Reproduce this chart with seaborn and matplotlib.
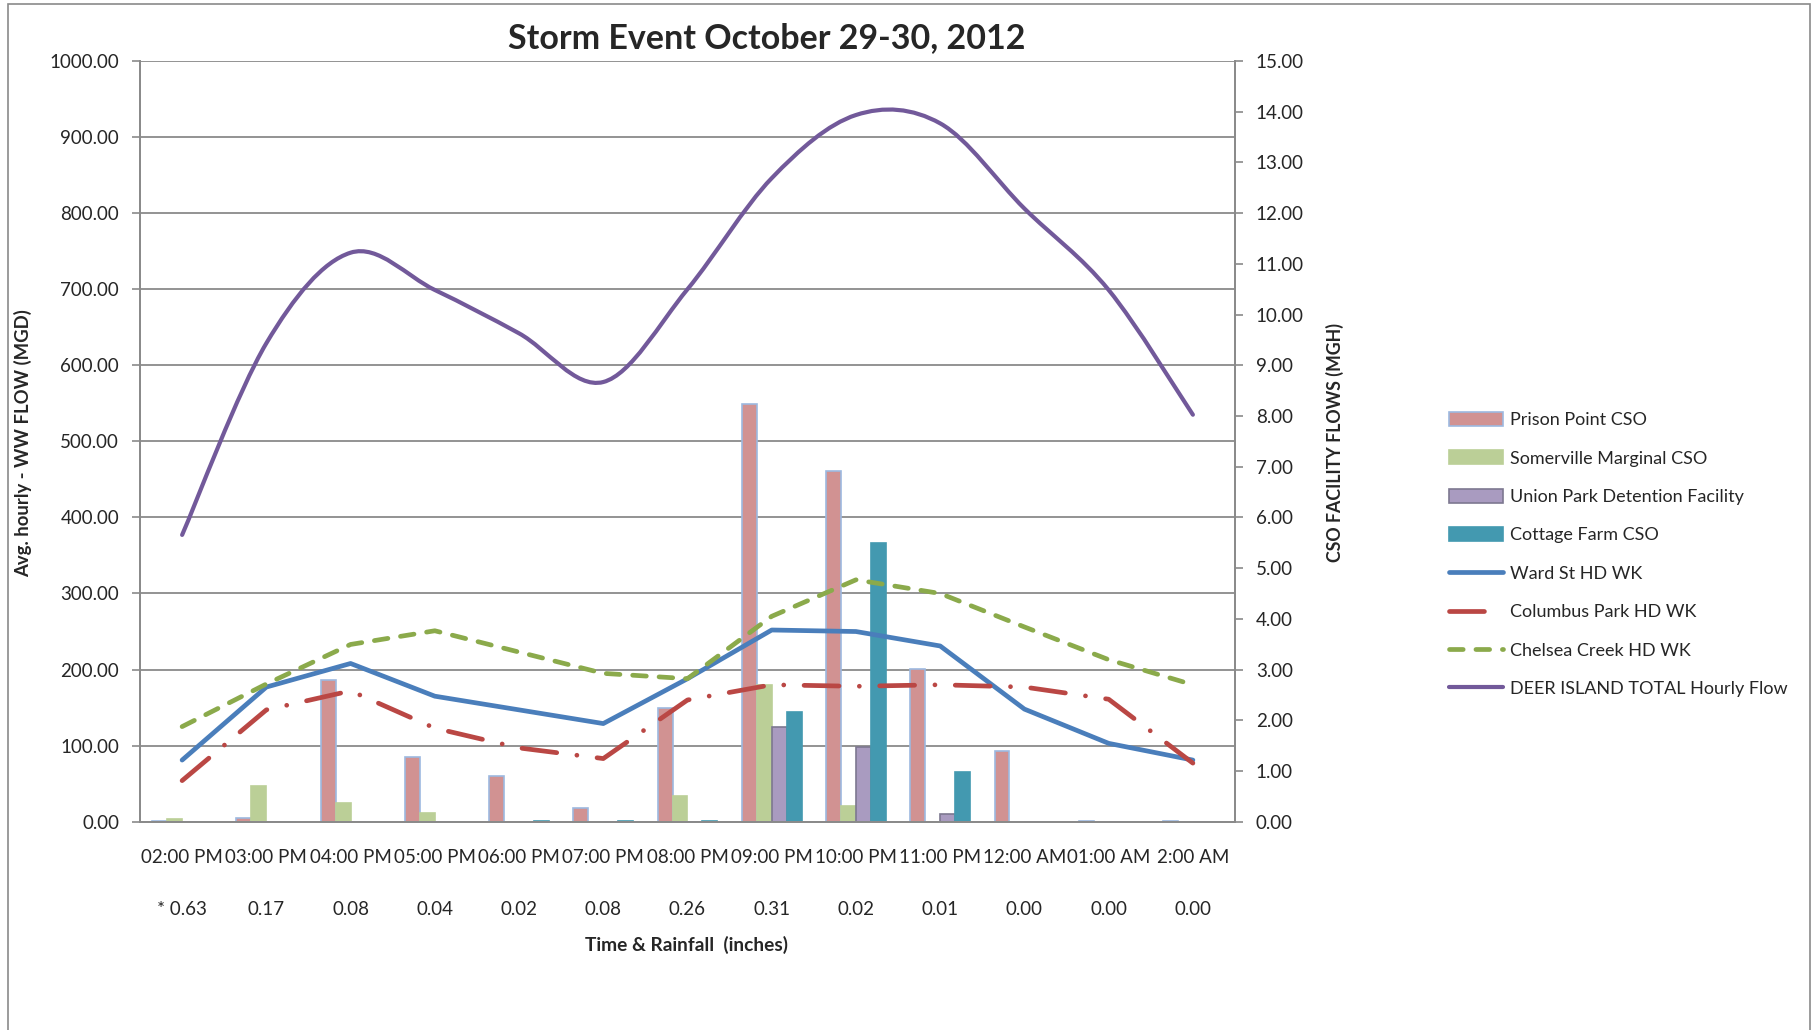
import numpy as np
import pandas as pd
import matplotlib
matplotlib.use("Agg")
import matplotlib.pyplot as plt
from matplotlib.path import Path
from matplotlib.patches import PathPatch, Patch, Rectangle
from matplotlib.lines import Line2D
import seaborn as sns

# hourly categories and rainfall (inches)
times = ["02:00 PM", "03:00 PM", "04:00 PM", "05:00 PM", "06:00 PM", "07:00 PM", "08:00 PM",
         "09:00 PM", "10:00 PM", "11:00 PM", "12:00 AM", "01:00 AM", "2:00 AM"]
rainfall = ["* 0.63", "0.17", "0.08", "0.04", "0.02", "0.08", "0.26",
            "0.31", "0.02", "0.01", "0.00", "0.00", "0.00"]

# CSO facility flows (MGH) - right axis, bars
prison_point = [0.02, 0.07, 2.80, 1.27, 0.90, 0.27, 2.24, 8.24, 6.92, 3.02, 1.40, 0.01, 0.01]
somerville = [0.05, 0.70, 0.36, 0.17, 0.0, 0.0, 0.51, 2.70, 0.30, 0.0, 0.0, 0.0, 0.0]
union_park = [0.0, 0.0, 0.0, 0.0, 0.0, 0.0, 0.0, 1.87, 1.47, 0.15, 0.0, 0.0, 0.0]
cottage_farm = [0.0, 0.0, 0.0, 0.0, 0.01, 0.01, 0.01, 2.16, 5.50, 0.98, 0.0, 0.0, 0.0]

# headworks and Deer Island flows (MGD) - left axis, lines
ward_st = [81, 177, 208, 165, 147, 129, 188, 252, 250, 231, 148, 103, 81]
columbus_park = [54, 147, 172, 123, 97, 83, 160, 180, 178, 180, 177, 161, 77]
chelsea_creek = [125, 181, 233, 251, 223, 195, 188, 270, 318, 300, 256, 213, 180]
deer_island = [377, 629, 748, 699, 642, 578, 700, 846, 929, 918, 806, 699, 535]

bar_names = ["Prison Point CSO", "Somerville Marginal CSO", "Union Park Detention Facility", "Cottage Farm CSO"]
bar_colors = ["#D19292", "#BBCF97", "#A99BC0", "#4399B0"]
bar_edges = ["#9DB9E0", "#BBCF97", "#7D7890", "#4399B0"]

grey = "#8a8a8a"

sns.set_style("white")
plt.rcParams["font.family"] = ["Lato", "DejaVu Sans"]

fig = plt.figure(figsize=(18.15, 10.30), dpi=100)
ax = fig.add_axes([140 / 1815, 1 - 821.7 / 1030, 1095 / 1815, 760.7 / 1030])
ax2 = ax.twinx()

#bars on the right hand axis
bars = pd.DataFrame({
    "time": times * 4,
    "series": [n for n in bar_names for _ in times],
    "flow": prison_point + somerville + union_park + cottage_farm,
})
sns.barplot(data=bars, x="time", y="flow", hue="series", order=times, hue_order=bar_names,
            palette=bar_colors, saturation=1, width=0.71, gap=0, errorbar=None,
            legend=False, ax=ax2)
for cont, ec in zip(ax2.containers, bar_edges):
    for p in cont:
        p.set_edgecolor(ec)
        p.set_linewidth(1.2)

ax2.set_ylim(0, 15)
ax2.set_yticks(np.arange(0, 16, 1))
ax2.set_yticklabels([f"{v:.2f}" for v in range(16)])
#gridlines follow the left axis steps, drawn under the bars
ax2.yaxis.remove_overlapping_locs = False
ax2.set_yticks(np.linspace(0, 15, 11), minor=True)
ax2.yaxis.grid(True, which="minor", color=grey, linewidth=1.3)
ax2.yaxis.grid(False, which="major")
ax2.tick_params(axis="y", which="minor", length=0)
ax2.tick_params(axis="y", which="major", length=6, width=1.2, color=grey, pad=9, labelsize=13.5)
ax2.set_ylabel("")
ax2.set_xlabel("")

#lines on the left hand axis, drawn above the bars
ax.set_zorder(ax2.get_zorder() + 1)
ax.patch.set_visible(False)
idx = np.arange(len(times))

sns.lineplot(x=idx, y=ward_st, ax=ax, color="#4A7EBB", linewidth=3.4, legend=False)
sns.lineplot(x=idx, y=columbus_park, ax=ax, color="#BA4744", linewidth=3.4, legend=False,
             linestyle=(0, (7.4, 4.3, 0.01, 4.3)), dash_capstyle="round")
sns.lineplot(x=idx, y=chelsea_creek, ax=ax, color="#8BAA4B", linewidth=3.4, legend=False,
             linestyle=(0, (2.9, 2.7)), dash_capstyle="round")


def smooth_path(xs, ys):
    # excel style smoothed line: bezier segments through every point
    pts = np.column_stack([xs, ys]).astype(float)
    n = len(pts)
    verts = [pts[0]]
    codes = [Path.MOVETO]
    for i in range(n - 1):
        p0 = pts[max(i - 1, 0)]
        p1 = pts[i]
        p2 = pts[i + 1]
        p3 = pts[min(i + 2, n - 1)]
        verts += [p1 + (p2 - p0) / 6, p2 - (p3 - p1) / 6, p2]
        codes += [Path.CURVE4] * 3
    return Path(verts, codes)


ax.add_patch(PathPatch(smooth_path(idx, deer_island), facecolor="none", edgecolor="#72599A",
                       linewidth=3.0, capstyle="round", joinstyle="round"))

ax.set_ylim(0, 1000)
ax.set_yticks(np.arange(0, 1001, 100))
ax.set_yticklabels([f"{v:.2f}" for v in range(0, 1001, 100)])
ax.tick_params(axis="y", length=6, width=1.2, color=grey, pad=9, labelsize=13.5)
ax.set_xlim(-0.5, len(times) - 0.5)
ax.set_xticks(idx)
ax.set_xticklabels(times)
ax.set_xticks(np.arange(-0.5, len(times)), minor=True)
ax.tick_params(axis="x", which="major", length=0, pad=20, labelsize=13.5)
ax.tick_params(axis="x", which="minor", length=74, width=1.2, color=grey, direction="out")
ax.set_xlabel("")
ax.set_ylabel("")
ax.grid(False)

for a in (ax, ax2):
    for s in a.spines.values():
        s.set_color(grey)
        s.set_linewidth(1.3)
    a.spines["top"].set_visible(False)

# rainfall row under the times
for i, r in enumerate(rainfall):
    ax.text(i, -0.1148, r, transform=ax.get_xaxis_transform(), ha="center", va="center", fontsize=13.5)

fig.text(767 / 1815, 1 - 38 / 1030, "Storm Event October 29-30, 2012", ha="center", va="center",
         fontsize=24.5, fontweight="bold")
fig.text(687 / 1815, 1 - 945 / 1030, "Time & Rainfall  (inches)", ha="center", va="center",
         fontsize=13.8, fontweight="bold")
fig.text(23 / 1815, 1 - 443 / 1030, "Avg. hourly - WW FLOW (MGD)", ha="center", va="center",
         rotation=90, fontsize=13.3, fontweight="bold")
fig.text(1335 / 1815, 1 - 443 / 1030, "CSO FACILITY FLOWS (MGH)", ha="center", va="center",
         rotation=90, fontsize=12.8, fontweight="bold")

handles = [Patch(facecolor=c, edgecolor=e, linewidth=1.2) for c, e in zip(bar_colors, bar_edges)]
handles += [
    Line2D([], [], color="#4A7EBB", linewidth=3.4),
    Line2D([], [], color="#BA4744", linewidth=3.4, linestyle=(0, (7.4, 4.3, 0.01, 4.3)), dash_capstyle="round"),
    Line2D([], [], color="#8BAA4B", linewidth=3.4, linestyle=(0, (2.9, 2.7)), dash_capstyle="round"),
    Line2D([], [], color="#72599A", linewidth=3.0),
]
labels = bar_names + ["Ward St HD WK", "Columbus Park HD WK", "Chelsea Creek HD WK", "DEER ISLAND TOTAL Hourly Flow"]
fig.legend(handles, labels, loc="upper left", bbox_to_anchor=(1449 / 1815, 1 - 412 / 1030),
           frameon=False, fontsize=13, handlelength=3.0, handleheight=0.8, handletextpad=0.4,
           labelspacing=1.23, borderpad=0, borderaxespad=0)

# outer chart border
fig.add_artist(Rectangle((8 / 1815, -0.05), 1802 / 1815, 1.05 - 4 / 1030, transform=fig.transFigure,
                         fill=False, edgecolor=grey, linewidth=1.2))

plt.savefig("out.png", dpi=100)
plt.close()
